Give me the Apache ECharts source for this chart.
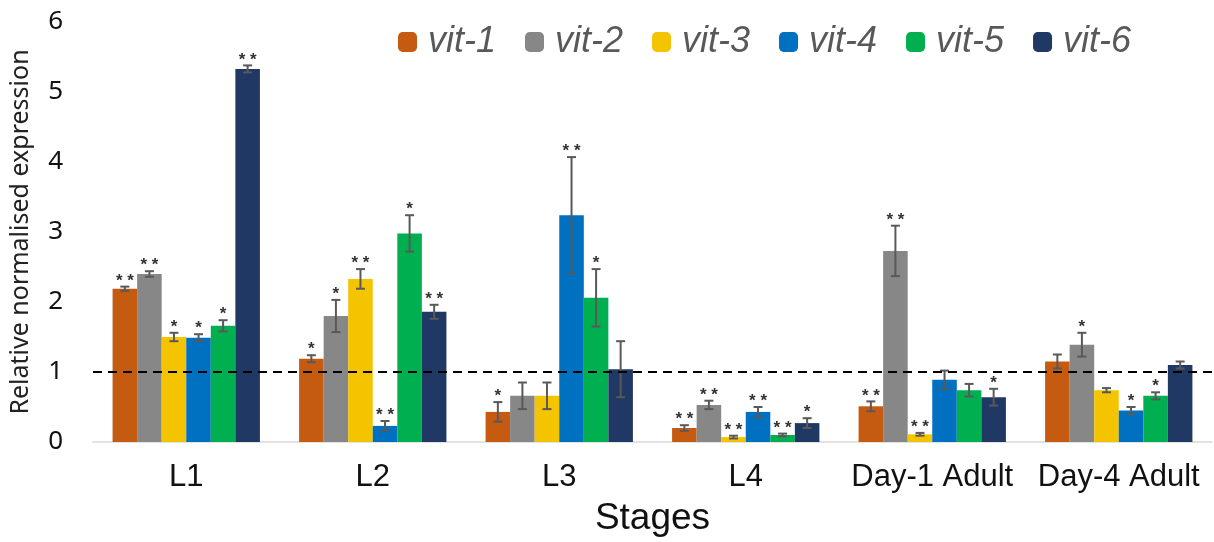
<!DOCTYPE html>
<html><head><meta charset="utf-8">
<script src="https://cdn.jsdelivr.net/npm/echarts@6/dist/echarts.min.js"></script>
<style>html,body{margin:0;padding:0;background:#fff}#c{width:1214px;height:542px}</style>
</head><body><div id="c"></div>
<script>
var categories = ['L1', 'L2', 'L3', 'L4', 'Day-1 Adult', 'Day-4 Adult'];
var seriesNames = ['vit-1', 'vit-2', 'vit-3', 'vit-4', 'vit-5', 'vit-6'];
var colors = ['#C55A11', '#878787', '#F5C400', '#0070C0', '#00B050', '#203864'];
var vit1 = [2.19, 1.19, 0.43, 0.20, 0.51, 1.15];
var vit2 = [2.40, 1.80, 0.66, 0.53, 2.73, 1.39];
var vit3 = [1.50, 2.33, 0.66, 0.07, 0.11, 0.74];
var vit4 = [1.49, 0.23, 3.24, 0.43, 0.89, 0.45];
var vit5 = [1.66, 2.98, 2.06, 0.10, 0.74, 0.66];
var vit6 = [5.33, 1.86, 1.04, 0.27, 0.64, 1.10];
var err1 = [0.03, 0.05, 0.14, 0.04, 0.07, 0.10];
var err2 = [0.04, 0.23, 0.19, 0.06, 0.36, 0.17];
var err3 = [0.06, 0.14, 0.19, 0.02, 0.02, 0.03];
var err4 = [0.05, 0.07, 0.83, 0.07, 0.13, 0.05];
var err5 = [0.08, 0.26, 0.41, 0.02, 0.09, 0.05];
var err6 = [0.05, 0.10, 0.40, 0.07, 0.12, 0.05];
var sig1 = ['**', '*', '*', '**', '**', ''];
var sig2 = ['**', '*', '', '**', '**', '*'];
var sig3 = ['*', '**', '', '**', '**', ''];
var sig4 = ['*', '**', '**', '**', '', '*'];
var sig5 = ['*', '*', '*', '**', '', '*'];
var sig6 = ['**', '**', '', '*', '*', ''];
var yTicks = [0, 1, 2, 3, 4, 5, 6];

var values = [vit1, vit2, vit3, vit4, vit5, vit6];
var errs = [err1, err2, err3, err4, err5, err6];
var sigs = [sig1, sig2, sig3, sig4, sig5, sig6];
var catGap = 0.21;

var series = [];
seriesNames.forEach(function (name, i) {
  var s = {
    name: name, type: 'bar', data: values[i], barGap: '0%', barCategoryGap: (catGap * 100) + '%',
    itemStyle: { color: colors[i] }, z: 2
  };
  if (i === 0) {
    s.markLine = {
      silent: true, symbol: 'none', label: { show: false },
      lineStyle: { color: '#000', type: [9, 6], width: 2 },
      data: [{ yAxis: 1 }], z: 10
    };
  }
  series.push(s);
});
seriesNames.forEach(function (name, i) {
  series.push({
    type: 'custom', name: name + '-err', z: 5, silent: true,
    data: values[i].map(function (v, k) { return [k, v, errs[i][k]]; }),
    renderItem: function (params, api) {
      var k = api.value(0), v = api.value(1), e = api.value(2);
      var sig = sigs[i][k];
      var band = api.size([1, 0])[0];
      var bw = band * (1 - catGap) / 6;
      var c = api.coord([k, v]);
      var x = c[0] + (i - 2.5) * bw;
      var top = api.coord([k, v + e])[1];
      var bot = api.coord([k, v - e])[1];
      var cap = 4.5;
      var st = { stroke: '#595959', lineWidth: 2 };
      var ch = [
        { type: 'line', shape: { x1: x, y1: top, x2: x, y2: bot }, style: st },
        { type: 'line', shape: { x1: x - cap, y1: top, x2: x + cap, y2: top }, style: st },
        { type: 'line', shape: { x1: x - cap, y1: bot, x2: x + cap, y2: bot }, style: st }
      ];
      if (sig) {
        ch.push({ type: 'text', x: x, y: top + 3, style: { text: sig.split('').join(' '), fill: '#333', font: 'bold 17px "Liberation Sans"', align: 'center', verticalAlign: 'bottom' } });
      }
      return { type: 'group', children: ch };
    }
  });
});

var chart = echarts.init(document.getElementById('c'));
chart.setOption({
  animation: false,
  color: colors,
  textStyle: { fontFamily: 'Liberation Sans' },
  legend: {
    data: seriesNames, top: 19, left: 393, itemWidth: 19, itemHeight: 20, itemGap: 29,
    textStyle: { fontSize: 36, fontStyle: 'italic', color: '#595959', fontFamily: 'Liberation Sans', padding: [0, 0, 0, 6] }
  },
  grid: { left: 92, right: 2, top: 22, bottom: 100 },
  xAxis: {
    type: 'category', data: categories,
    name: 'Stages', nameLocation: 'middle', nameGap: 58,
    nameTextStyle: { fontSize: 37, color: '#111', fontFamily: 'Liberation Sans' },
    axisLine: { lineStyle: { color: '#d9d9d9', width: 1.5 } },
    axisTick: { show: false },
    axisLabel: { fontSize: 31, color: '#111', margin: 20, interval: 0, hideOverlap: false, fontFamily: 'Liberation Sans' }
  },
  yAxis: {
    type: 'value', min: 0, max: 6, interval: 1,
    name: 'Relative normalised expression', nameLocation: 'middle', nameGap: 60, nameRotate: 90,
    nameTextStyle: { fontSize: 25, color: '#222', fontFamily: 'Noto Sans' },
    axisLine: { show: false }, axisTick: { show: false }, splitLine: { show: false },
    axisLabel: { fontSize: 26, color: '#111', margin: 30, fontFamily: 'Noto Sans',
      formatter: function (v) { return yTicks.indexOf(v) >= 0 ? String(v) : ''; } }
  },
  series: series
});
</script></body></html>
